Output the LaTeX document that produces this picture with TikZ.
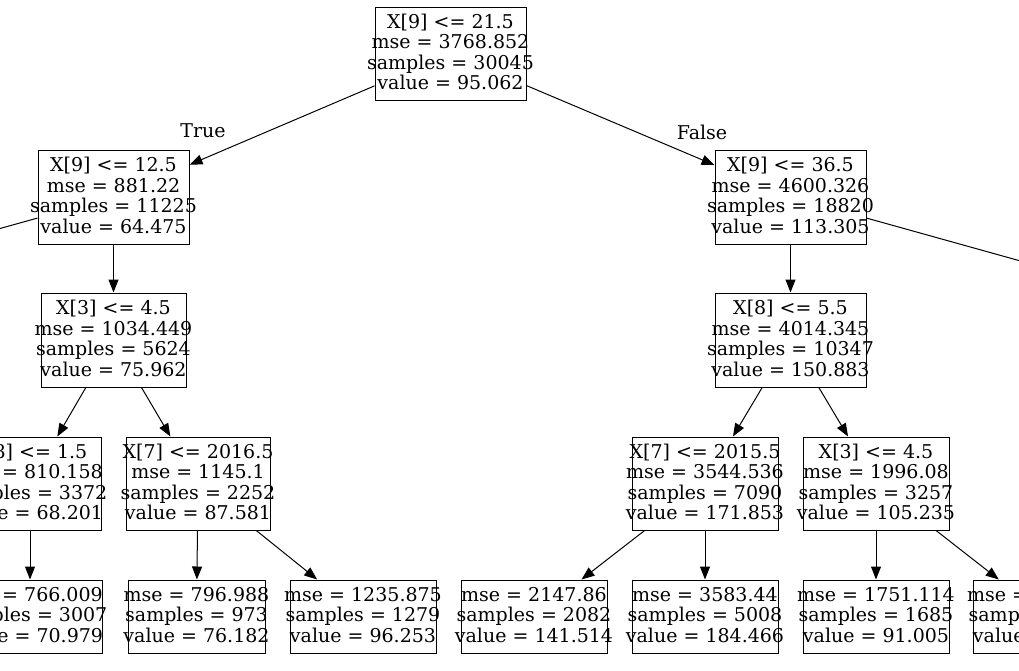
\documentclass[tikz,border=0pt]{standalone}
\usepackage{fontspec}
\setmainfont{DejaVu Serif}
\usetikzlibrary{arrows.meta}
\begin{document}
\begin{tikzpicture}[x=1pt,y=-1pt,
  box/.style={draw, line width=1pt, inner sep=0pt, minimum height=93pt},
  leaf/.style={draw, line width=1pt, inner sep=0pt, minimum height=73pt},
  txt/.style={inner sep=0pt, align=center, font=\fontsize{19}{20.6}\selectfont, yshift=1.5pt},
  lbl/.style={inner sep=0pt, font=\fontsize{19}{20.6}\selectfont},
  edge/.style={line width=1pt, -{Triangle[length=13pt,width=10pt]}},
]
\useasboundingbox (0,0) rectangle (1019,670);
\clip (0,0) rectangle (1019,670);
% decision nodes
\node[box, minimum width=151pt] (root) at (450.5,53.5) {};
\node[box, minimum width=151pt, minimum height=94pt] (n1) at (113.5,197) {};
\node[box, minimum width=151pt, minimum height=94pt] (n2) at (790.5,197) {};
\node[box, minimum width=145pt, minimum height=94pt] (n3) at (113.5,340) {};
\node[box, minimum width=151pt, minimum height=94pt] (n4) at (790.5,340) {};
\node[box, minimum width=142pt] (n5) at (30,483.5) {};
\node[box, minimum width=144pt] (n6) at (198,483.5) {};
\node[box, minimum width=146pt] (n11) at (705,483.5) {};
\node[box, minimum width=146pt] (n12) at (876,483.5) {};
% leaves
\node[leaf, minimum width=144pt] (n7) at (30,616.5) {};
\node[leaf, minimum width=137pt] (n8) at (196.5,616.5) {};
\node[leaf, minimum width=146pt] (n9) at (363,616.5) {};
\node[leaf, minimum width=146pt] (n10) at (534,616.5) {};
\node[leaf, minimum width=146pt] (n13) at (705,616.5) {};
\node[leaf, minimum width=146pt] (n14) at (876,616.5) {};
\node[leaf, minimum width=146pt] (n15) at (1046,616.5) {};
% off-canvas children
\coordinate (n0) at (-400,340);
\coordinate (n16) at (1304,340);
% texts
\node[txt] (rootT) at (root) {X[9] <= 21.5\\mse = 3768.852\\samples = 30045\\value = 95.062};
\node[txt] (n1T) at (n1) {X[9] <= 12.5\\mse = 881.22\\samples = 11225\\value = 64.475};
\node[txt] (n2T) at (n2) {X[9] <= 36.5\\mse = 4600.326\\samples = 18820\\value = 113.305};
\node[txt] (n3T) at (n3) {X[3] <= 4.5\\mse = 1034.449\\samples = 5624\\value = 75.962};
\node[txt] (n4T) at (n4) {X[8] <= 5.5\\mse = 4014.345\\samples = 10347\\value = 150.883};
\node[txt] (n5T) at (n5) {X[8] <= 1.5\\mse = 810.158\\samples = 3372\\value = 68.201};
\node[txt] (n6T) at (n6) {X[7] <= 2016.5\\mse = 1145.1\\samples = 2252\\value = 87.581};
\node[txt] (n11T) at (n11) {X[7] <= 2015.5\\mse = 3544.536\\samples = 7090\\value = 171.853};
\node[txt] (n12T) at (n12) {X[3] <= 4.5\\mse = 1996.08\\samples = 3257\\value = 105.235};
\node[txt] (n7T) at (n7) {mse = 766.009\\samples = 3007\\value = 70.979};
\node[txt] (n8T) at (n8) {mse = 796.988\\samples = 973\\value = 76.182};
\node[txt] (n9T) at (n9) {mse = 1235.875\\samples = 1279\\value = 96.253};
\node[txt] (n10T) at (n10) {mse = 2147.86\\samples = 2082\\value = 141.514};
\node[txt] (n13T) at (n13) {mse = 3583.44\\samples = 5008\\value = 184.466};
\node[txt] (n14T) at (n14) {mse = 1751.114\\samples = 1685\\value = 91.005};
\node[txt] (n15T) at (n15) {mse = 2096.412\\samples = 1572\\value = 120.49};
% edge labels
\node[lbl] (tl) at (203,131) {True};
\node[lbl] (fl) at (702,132) {False};
% edges
\draw[edge] (root) -- (n1);
\draw[edge] (root) -- (n2);
\draw[edge] (n1) -- (n0);
\draw[edge] (n1) -- (n3);
\draw[edge] (n2) -- (n4);
\draw[edge] (n2) -- (n16);
\draw[edge] (n3) -- (n5);
\draw[edge] (n3) -- (n6);
\draw[edge] (n4) -- (n11);
\draw[edge] (n4) -- (n12);
\draw[edge] (n5) -- (n7);
\draw[edge] (n6) -- (n8);
\draw[edge] (n6) -- (n9);
\draw[edge] (n11) -- (n10);
\draw[edge] (n11) -- (n13);
\draw[edge] (n12) -- (n14);
\draw[edge] (n12) -- (n15);
\end{tikzpicture}
\end{document}
